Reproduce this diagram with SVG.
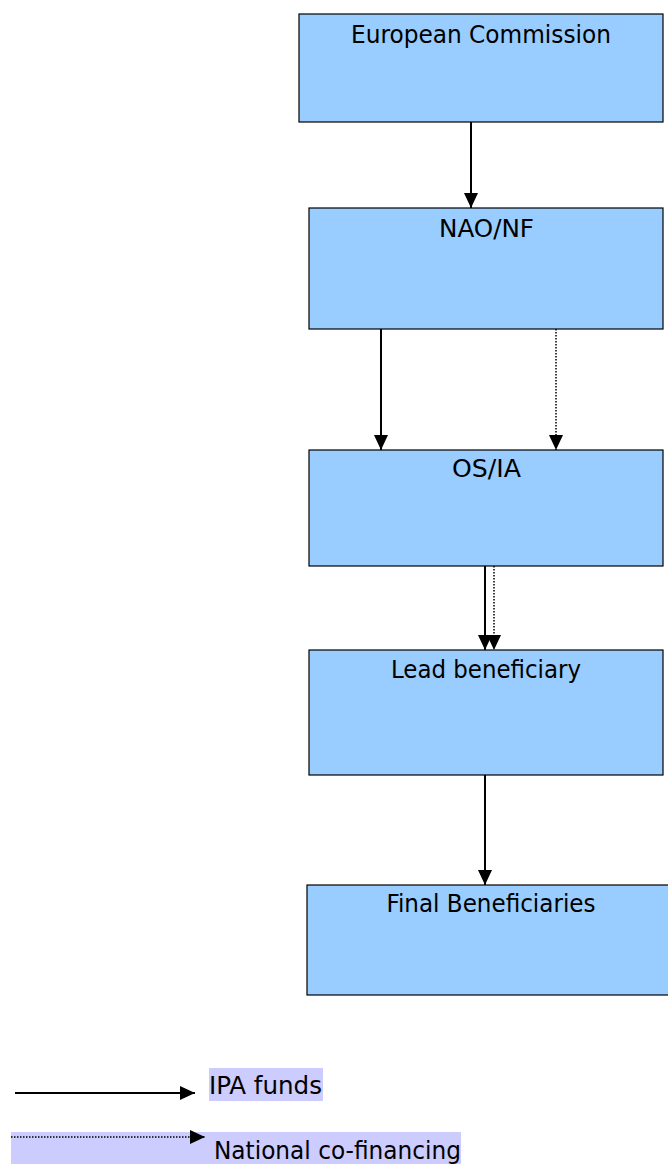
<svg xmlns="http://www.w3.org/2000/svg" width="668" height="1164" viewBox="0 0 668 1164">
<style>
.box{fill:#99ccff;stroke:#000;stroke-width:1.2}
.t{font-family:"DejaVu Sans Condensed","DejaVu Sans",Verdana,sans-serif;font-size:25px;fill:#000}
.ln{stroke:#000;stroke-width:2;fill:none}
.dt{stroke:#000;stroke-width:1.5;stroke-dasharray:1.5 1.5;fill:none}
</style>
<defs>
<marker id="ah" markerUnits="userSpaceOnUse" markerWidth="15" markerHeight="15" viewBox="0 0 15 15" refX="15" refY="7.5" orient="auto">
<path d="M0,0.5 L15,7.5 L0,14.5 Z" fill="#000"/>
</marker>
</defs>
<rect width="668" height="1164" fill="#fff"/>
<g id="european-commission">
<rect class="box" x="299" y="14" width="364" height="108"/>
<text class="t" x="481" y="43" text-anchor="middle" textLength="260" lengthAdjust="spacingAndGlyphs">European Commission</text>
</g>
<g id="nao-nf">
<rect class="box" x="309" y="208" width="354" height="121"/>
<text class="t" x="486.5" y="237" text-anchor="middle" textLength="95" lengthAdjust="spacingAndGlyphs">NAO/NF</text>
</g>
<g id="os-ia">
<rect class="box" x="309" y="450" width="354" height="116"/>
<text class="t" x="486.5" y="477" text-anchor="middle" textLength="69" lengthAdjust="spacingAndGlyphs">OS/IA</text>
</g>
<g id="lead-beneficiary">
<rect class="box" x="309" y="650" width="354" height="125"/>
<text class="t" x="486" y="678" text-anchor="middle" textLength="190" lengthAdjust="spacingAndGlyphs">Lead beneficiary</text>
</g>
<g id="final-beneficiaries">
<rect class="box" x="307" y="885" width="370" height="110"/>
<text class="t" x="491" y="912" text-anchor="middle" textLength="209" lengthAdjust="spacingAndGlyphs">Final Beneficiaries</text>
</g>
<g id="connectors">
<line class="ln" x1="471" y1="122" x2="471" y2="208" marker-end="url(#ah)"/>
<line class="ln" x1="381" y1="329" x2="381" y2="450" marker-end="url(#ah)"/>
<line class="dt" x1="556" y1="329" x2="556" y2="450" marker-end="url(#ah)"/>
<line class="ln" x1="485" y1="566" x2="485" y2="650" marker-end="url(#ah)"/>
<line class="dt" x1="494" y1="566" x2="494" y2="650" marker-end="url(#ah)"/>
<line class="ln" x1="485" y1="775" x2="485" y2="885" marker-end="url(#ah)"/>
</g>
<g id="legend">
<rect x="209" y="1068" width="114" height="33" fill="#ccccff"/>
<rect x="11" y="1132" width="450" height="32" fill="#ccccff"/>
<line class="ln" x1="15" y1="1093" x2="195" y2="1093" marker-end="url(#ah)"/>
<line class="dt" x1="11" y1="1137" x2="205" y2="1137" marker-end="url(#ah)"/>
<text class="t" x="209" y="1094" textLength="113" lengthAdjust="spacingAndGlyphs">IPA funds</text>
<text class="t" x="214" y="1159" textLength="247" lengthAdjust="spacingAndGlyphs">National co-financing</text>
</g>
</svg>
